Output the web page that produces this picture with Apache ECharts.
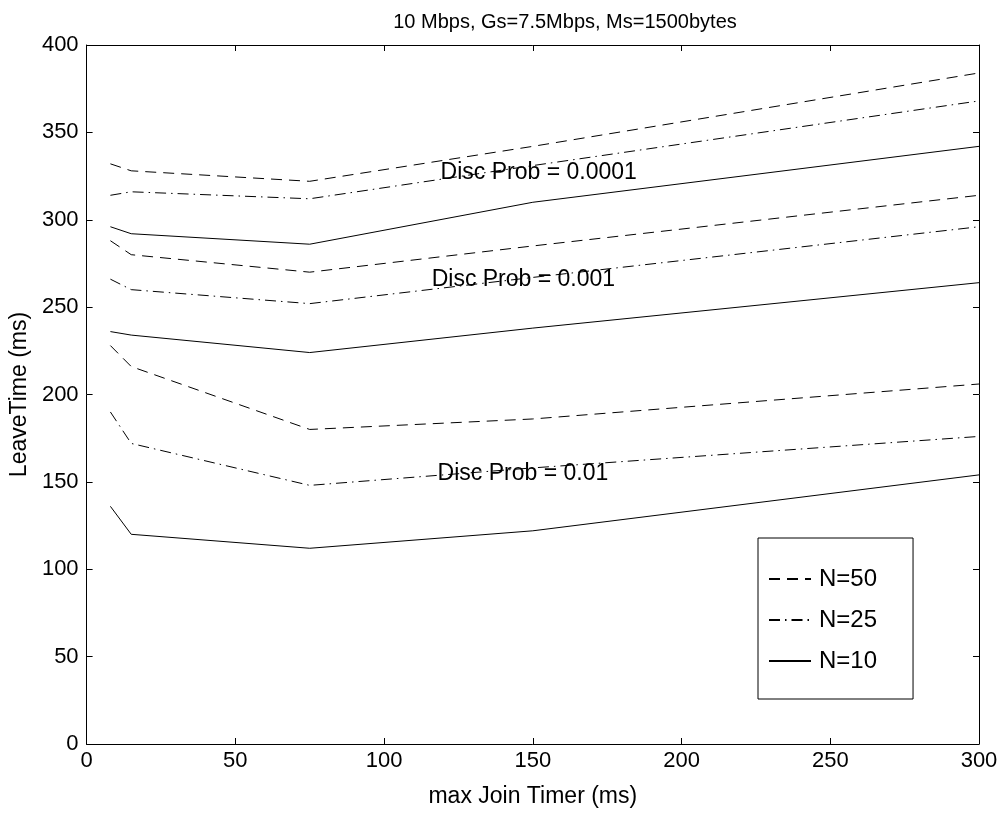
<!DOCTYPE html>
<html>
<head>
<meta charset="utf-8">
<script src="https://cdn.jsdelivr.net/npm/echarts@6/dist/echarts.min.js"></script>
<style>
  html, body { margin: 0; padding: 0; background: #fff; }
  #chart { width: 1005px; height: 813px; }
</style>
</head>
<body>
<div id="chart"></div>
<script>
// x positions (max Join Timer, ms)
const joinTimer = [8, 15, 75, 150, 300];

// LeaveTime (ms), one array per disc prob / N
const p0001_N50 = [332, 328, 322, 342, 384];
const p0001_N25 = [314, 316, 312, 331, 368];
const p0001_N10 = [296, 292, 286, 310, 342];

const p001_N50 = [288, 280, 270, 285, 314];
const p001_N25 = [266, 260, 252, 267, 296];
const p001_N10 = [236, 234, 224, 238, 264];

const p01_N50 = [228, 216, 180, 186, 206];
const p01_N25 = [190, 172, 148, 158, 176];
const p01_N10 = [136, 120, 112, 122, 154];

const xTicks = [0, 50, 100, 150, 200, 250, 300];
const yTicks = [0, 50, 100, 150, 200, 250, 300, 350, 400];

// text labels, placed in data units (left edge, vertical middle)
const notes = [
  { text: 'Disc Prob = 0.0001', x: 119, y: 327 },
  { text: 'Disc Prob = 0.001', x: 116, y: 265.5 },
  { text: 'Disc Prob = 0.01', x: 118, y: 154.5 },
];

const FONT = 'Liberation Sans, Arial, Helvetica, sans-serif';
const DASH = [11, 7];
const DASHDOT = [11, 5, 1.5, 5];

function line(name, vals, dash) {
  return {
    type: 'line', name,
    data: joinTimer.map((x, i) => [x, vals[i]]),
    symbol: 'none', showSymbol: false, silent: true,
    lineStyle: { color: '#000', width: 1, type: dash || 'solid' },
    itemStyle: { color: '#000' },
  };
}

const chart = echarts.init(document.getElementById('chart'));
const axisCommon = {
  axisLine: { show: true, onZero: false, lineStyle: { color: '#000', width: 1 } },
  axisTick: { show: true, inside: true, length: 6, lineStyle: { color: '#000' } },
  splitLine: { show: false },
};
chart.setOption({
  animation: false,
  backgroundColor: '#fff',
  title: {
    text: '10 Mbps, Gs=7.5Mbps, Ms=1500bytes',
    left: 560, top: 7, textAlign: 'center',
    textStyle: { fontFamily: FONT, fontSize: 20, fontWeight: 'normal', color: '#000' },
  },
  grid: { left: 86, right: 26, top: 45, bottom: 66 },
  legend: {
    data: ['N=50', 'N=25', 'N=10'],
    orient: 'vertical',
    left: 758, top: 538,
    padding: [29, 36, 26, 10],
    itemWidth: 42, itemHeight: 14, itemGap: 17,
    borderColor: '#000', borderWidth: 1,
    itemStyle: { opacity: 0 },
    textStyle: { fontFamily: FONT, fontSize: 24, color: '#000', padding: [0, 0, 0, 3] },
  },
  xAxis: [{
    type: 'value', min: 0, max: 300, interval: 50,
    name: 'max Join Timer (ms)', nameLocation: 'middle', nameGap: 41,
    nameTextStyle: { fontFamily: FONT, fontSize: 23, color: '#000' },
    axisLabel: { fontFamily: FONT, fontSize: 22, color: '#000', margin: 6,
      formatter: (v) => xTicks.includes(v) ? String(v) : '' },
    ...axisCommon,
  }, {
    type: 'value', position: 'top', min: 0, max: 300, interval: 50,
    axisLabel: { show: false }, ...axisCommon,
  }],
  yAxis: [{
    type: 'value', min: 0, max: 400, interval: 50,
    name: 'LeaveTime (ms)', nameLocation: 'middle', nameGap: 51,
    nameTextStyle: { fontFamily: FONT, fontSize: 23, color: '#000' },
    axisLabel: { fontFamily: FONT, fontSize: 22, color: '#000', margin: 8,
      formatter: (v) => yTicks.includes(v) ? String(v) : '' },
    ...axisCommon,
  }, {
    type: 'value', position: 'right', min: 0, max: 400, interval: 50,
    axisLabel: { show: false }, ...axisCommon,
  }],
  series: [
    line('N=50', p0001_N50, DASH),
    line('N=25', p0001_N25, DASHDOT),
    line('N=10', p0001_N10),
    line('N=50', p001_N50, DASH),
    line('N=25', p001_N25, DASHDOT),
    line('N=10', p001_N10),
    line('N=50', p01_N50, DASH),
    line('N=25', p01_N25, DASHDOT),
    line('N=10', p01_N10),
  ],
});

chart.setOption({
  graphic: notes.map((n) => {
    const [px, py] = chart.convertToPixel({ gridIndex: 0 }, [n.x, n.y]);
    return {
      type: 'text', x: px, y: py, z: 100,
      style: { text: n.text, font: '23px ' + FONT, fill: '#000', align: 'left', verticalAlign: 'middle' },
    };
  }),
});
</script>
</body>
</html>
